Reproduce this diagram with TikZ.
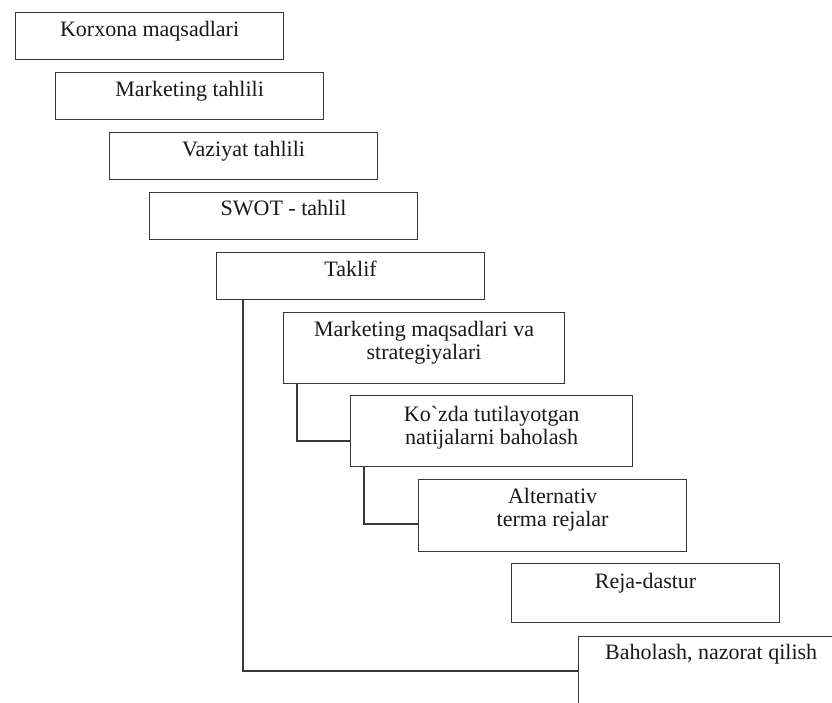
\documentclass[tikz,border=0pt]{standalone}
\usepackage{fontspec}
\setmainfont{Liberation Serif}
\newfontfamily\rawserif{Liberation Serif}
\tikzset{
  boxnode/.style={draw=black!78, line width=1.2pt, fill=white, rectangle, inner sep=0pt, anchor=north west},
  txt/.style={inner sep=0pt, anchor=north, align=center, text=black!90, font=\fontsize{22}{23.5}\selectfont},
  conn/.style={draw=black!78, line width=1.2pt}
}
\begin{document}
\begin{tikzpicture}[x=1pt,y=1pt]
\useasboundingbox (0,0) rectangle (832,-702);
\fill[white] (0,0) rectangle (832,-702);
\clip (0,0) rectangle (832,-702);
% boxes
\node[boxnode, minimum width=268pt, minimum height=47pt] (b1) at (15,-12) {};
\node[boxnode, minimum width=268pt, minimum height=47pt] (b2) at (55,-72) {};
\node[boxnode, minimum width=268pt, minimum height=47pt] (b3) at (109,-132) {};
\node[boxnode, minimum width=268pt, minimum height=47pt] (b4) at (149,-192) {};
\node[boxnode, minimum width=268pt, minimum height=47pt] (b5) at (216,-252) {};
\node[boxnode, minimum width=281pt, minimum height=71pt] (b6) at (283,-312) {};
\node[boxnode, minimum width=282pt, minimum height=71pt] (b7) at (350,-395) {};
\node[boxnode, minimum width=268pt, minimum height=72pt] (b8) at (418,-479) {};
\node[boxnode, minimum width=268pt, minimum height=59pt] (b9) at (511,-563) {};
\node[boxnode, minimum width=268pt, minimum height=90pt] (b10) at (578,-636) {};
% texts
\node[txt] (t1) at ([yshift=-9.5pt]b1.north) {Korxona maqsadlari};
\node[txt] (t2) at ([yshift=-9.5pt]b2.north) {Marketing tahlili};
\node[txt] (t3) at ([yshift=-9.5pt]b3.north) {Vaziyat tahlili};
\node[txt] (t4) at ([yshift=-8pt]b4.north) {SWOT - tahlil};
\node[txt] (t5) at ([yshift=-9pt]b5.north) {Taklif};
\node[txt] (t6) at ([yshift=-9pt]b6.north) {Marketing maqsadlari va\\strategiyalari};
\node[txt] (t7) at ([yshift=-10.5pt]b7.north) {Ko{\rawserif`}zda tutilayotgan\\natijalarni baholash};
\node[txt] (t8) at ([yshift=-9pt]b8.north) {Alternativ\\terma rejalar};
\node[txt] (t9) at ([yshift=-10pt]b9.north) {Reja-dastur};
\node[txt, anchor=north west] (t10) at ([xshift=27pt,yshift=-8pt]b10.north west) {Baholash, nazorat qilish};
% connectors
\draw[conn] ([xshift=27pt]b5.south west) |- ([yshift=-35pt]b10.north west);
\draw[conn] ([xshift=14pt]b6.south west) |- ([yshift=-46pt]b7.north west);
\draw[conn] ([xshift=14pt]b7.south west) |- ([yshift=-45pt]b8.north west);
\end{tikzpicture}
\end{document}
